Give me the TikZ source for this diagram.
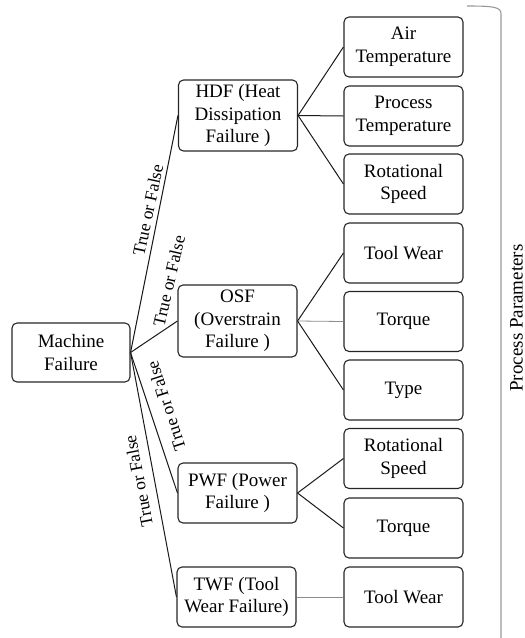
\documentclass[tikz,border=0pt]{standalone}
\usepackage{fontspec}
\setmainfont{Liberation Serif}
\begin{document}
\begin{tikzpicture}[x=1pt,y=-1pt,
  box/.style={draw=black!85, line width=1.1pt, rounded corners=5pt, minimum width=119pt, minimum height=60pt, align=center, inner sep=0pt, font=\fontsize{19}{22.7}\selectfont},
  conn/.style={line width=1pt, black!90},
  lightconn/.style={line width=0.8pt, black!45},
  tf/.style={font=\fontsize{17.5}{20}\selectfont, inner sep=0pt},
  brace/.style={line width=1.1pt, black!40}]
\useasboundingbox (0,0) rectangle (525,638);
% left and middle nodes
\node[box, minimum width=118pt, minimum height=59pt] (mf) at (71,352.5) {Machine\\Failure};
\node[box, minimum height=71pt] (hdf) at (238,115.5) {HDF (Heat\\Dissipation\\Failure )};
\node[box, minimum height=72pt] (osf) at (237.5,321) {OSF\\(Overstrain\\Failure )};
\node[box] (pwf) at (237.5,493) {PWF (Power\\Failure )};
\node[box] (twf) at (236.5,597) {TWF (Tool\\Wear Failure)};
% right nodes
\node[box] (air) at (403.5,47) {Air\\Temperature};
\node[box] (proc) at (403.5,116) {Process\\Temperature};
\node[box] (rot1) at (403.5,184) {Rotational\\Speed};
\node[box] (tw1) at (403.5,253) {Tool Wear};
\node[box] (tq1) at (403.5,321.5) {Torque};
\node[box] (type) at (403.5,390) {Type};
\node[box] (rot2) at (403.5,458.5) {Rotational\\Speed};
\node[box] (tq2) at (403.5,528) {Torque};
\node[box] (tw2) at (403.5,597) {Tool Wear};
% connectors
\draw[conn] (mf.east) -- (hdf.west);
\draw[conn] (mf.east) -- (osf.west);
\draw[conn] (mf.east) -- (pwf.west);
\draw[conn] (mf.east) -- (twf.west);
\draw[conn] (hdf.east) -- (air.west);
\draw[conn] (hdf.east) -- (proc.west);
\draw[conn] (hdf.east) -- (rot1.west);
\draw[conn] (osf.east) -- (tw1.west);
\draw[lightconn] (osf.east) -- (tq1.west);
\draw[conn] (osf.east) -- (type.west);
\draw[conn] (pwf.east) -- (rot2.west);
\draw[conn] (pwf.east) -- (tq2.west);
\draw[lightconn] (twf.east) -- (tw2.west);
% labels
\node[tf, rotate=78] (l1) at (148,210) {True or False};
\node[tf, rotate=77] (l2) at (169,281) {True or False};
\node[tf, rotate=108] (l3) at (166,406) {True or False};
\node[tf, rotate=101] (l4) at (138.5,481) {True or False};
% brace
\coordinate (bt) at (467,6);
\coordinate (bb) at (501,640);
\draw[brace] (bt) .. controls (494,6) and (501,7) .. (501,14) -- (bb);
\node[rotate=90, anchor=north, inner sep=0pt, font=\fontsize{19}{22.7}\selectfont] (pp) at (510,318) {Process Parameters};
\end{tikzpicture}
\end{document}
